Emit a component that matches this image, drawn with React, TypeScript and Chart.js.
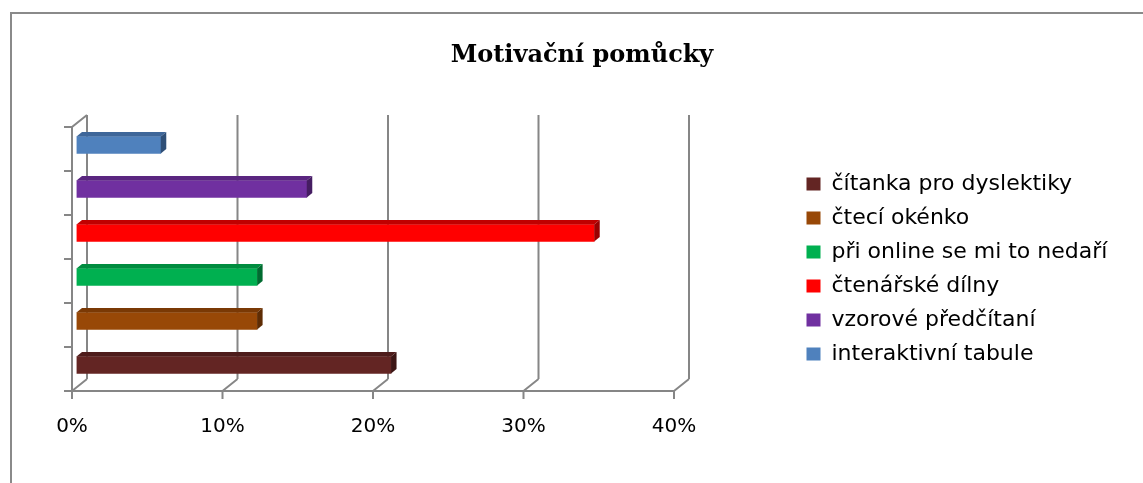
import React, { useEffect, useRef } from 'react';
import { Chart, registerables } from 'chart.js';

Chart.register(...registerables);

// ---- data ----
const categories = [
  'čítanka pro dyslektiky',
  'čtecí okénko',
  'při online se mi to nedaří',
  'čtenářské dílny',
  'vzorové předčítaní',
  'interaktivní tabule',
];
const values = [20.9, 12.0, 12.0, 34.4, 15.3, 5.6];
const xTickLabels = ['0%', '10%', '20%', '30%', '40%'];
const chartTitle = 'Motivační pomůcky';

// ---- styles ----
const frontColors = ['#632523', '#984807', '#00B050', '#FF0000', '#7030A0', '#4F81BD'];
const topColors = ['#4E1C1B', '#7A3905', '#008C3F', '#C00000', '#5A2680', '#3E6699'];
const sideColors = ['#3D1615', '#5E2C04', '#006B30', '#9A0000', '#451D62', '#2F4F77'];

const WALL_DX = 15;
const WALL_DY = -12;
const BAR_DX = 4.5;
const BAR_DY = -4;
const FACE_DX = 5.5;
const FACE_DY = -4.5;
const GRID = '#868686';

const excel3d = {
  id: 'excel3d',
  afterLayout(chart: any) {
    const lg = chart.legend;
    if (lg) {
      lg.left = 794.5;
      lg.right = chart.width;
      lg.top = 161;
      lg.bottom = chart.height;
    }
    const tb = chart.titleBlock;
    if (tb) {
      tb.left = 21;
      tb.right = chart.width;
    }
  },
  beforeDraw(chart: any) {
    const ctx = chart.ctx;
    ctx.save();
    ctx.strokeStyle = '#8a8a8a';
    ctx.lineWidth = 2;
    ctx.strokeRect(11, 13, chart.width + 20, chart.height + 20);
    ctx.restore();
  },
  beforeDatasetsDraw(chart: any) {
    const ctx = chart.ctx;
    const xs = chart.scales.x;
    const ys = chart.scales.y;
    const { top, bottom } = chart.chartArea;
    const x0 = xs.getPixelForValue(xs.min);
    const x1 = xs.getPixelForValue(xs.max);
    ctx.save();
    ctx.strokeStyle = GRID;
    ctx.lineWidth = 2;
    ctx.lineCap = 'butt';
    ctx.beginPath();
    xs.ticks.forEach((t: any) => {
      const x = xs.getPixelForValue(t.value);
      // back wall gridline
      ctx.moveTo(x + WALL_DX, bottom + WALL_DY);
      ctx.lineTo(x + WALL_DX, top + WALL_DY);
      // floor diagonal
      ctx.moveTo(x, bottom);
      ctx.lineTo(x + WALL_DX, bottom + WALL_DY);
      // tick mark
      ctx.moveTo(x, bottom);
      ctx.lineTo(x, bottom + 8);
    });
    // floor front edge
    ctx.moveTo(x0, bottom);
    ctx.lineTo(x1, bottom);
    // left axis
    ctx.moveTo(x0, bottom);
    ctx.lineTo(x0, top);
    ctx.lineTo(x0 + WALL_DX, top + WALL_DY);
    // category boundary ticks
    const n = ys.ticks.length;
    const band = n > 1 ? Math.abs(ys.getPixelForValue(1) - ys.getPixelForValue(0)) : bottom - top;
    for (let i = 0; i < n; i++) {
      const c = ys.getPixelForValue(i);
      [c - band / 2, c + band / 2].forEach((y) => {
        ctx.moveTo(x0 - 8, y);
        ctx.lineTo(x0, y);
      });
    }
    ctx.stroke();
    ctx.restore();

    ctx.save();
    ctx.translate(BAR_DX, BAR_DY);
  },
  afterDatasetsDraw(chart: any) {
    const ctx = chart.ctx;
    ctx.restore();
    const meta = chart.getDatasetMeta(0);
    ctx.save();
    meta.data.forEach((el: any, i: number) => {
      const p = el.getProps(['x', 'y', 'base', 'height'], true);
      const left = Math.min(p.base, p.x) + BAR_DX;
      const right = Math.max(p.base, p.x) + BAR_DX;
      const t = p.y - p.height / 2 + BAR_DY;
      const b = p.y + p.height / 2 + BAR_DY;
      // top face
      ctx.fillStyle = topColors[i];
      ctx.beginPath();
      ctx.moveTo(left, t);
      ctx.lineTo(right, t);
      ctx.lineTo(right + FACE_DX, t + FACE_DY);
      ctx.lineTo(left + FACE_DX, t + FACE_DY);
      ctx.closePath();
      ctx.fill();
      // side face
      ctx.fillStyle = sideColors[i];
      ctx.beginPath();
      ctx.moveTo(right, t);
      ctx.lineTo(right + FACE_DX, t + FACE_DY);
      ctx.lineTo(right + FACE_DX, b + FACE_DY);
      ctx.lineTo(right, b);
      ctx.closePath();
      ctx.fill();
    });
    ctx.restore();
  },
};

export default function App() {
  const canvasRef = useRef<HTMLCanvasElement | null>(null);

  useEffect(() => {
    if (!canvasRef.current) return;
    const chart = new Chart(canvasRef.current, {
      type: 'bar',
      data: {
        labels: categories,
        datasets: [
          {
            data: values,
            backgroundColor: frontColors,
            borderWidth: 0,
            barThickness: 17,
          },
        ],
      },
      options: {
        indexAxis: 'y',
        animation: false,
        responsive: false,
        events: [],
        layout: { padding: { left: 72, right: 469, top: 0, bottom: 32 } },
        scales: {
          x: {
            type: 'linear',
            min: 0,
            max: 40,
            grid: { display: false, drawTicks: false },
            border: { display: false },
            ticks: {
              stepSize: 10,
              padding: 24,
              color: '#000',
              font: { family: 'DejaVu Sans', size: 20 },
              callback: (_v: any, i: number) => xTickLabels[i],
            },
            afterFit: (s: any) => {
              s.height = 60;
            },
          },
          y: {
            type: 'category',
            reverse: true,
            display: false,
          },
        },
        plugins: {
          title: {
            display: true,
            text: chartTitle,
            color: '#000',
            font: { family: 'DejaVu Serif', size: 24, weight: 'bold' },
            padding: { top: 41, bottom: 57.2 },
          },
          legend: {
            display: true,
            position: 'chartArea',
            align: 'start',
            labels: {
              color: '#000',
              font: { family: 'DejaVu Sans', size: 22 },
              boxWidth: 14,
              boxHeight: 13,
              padding: 12,
              generateLabels: () =>
                categories.map((c, i) => ({
                  text: c,
                  fillStyle: frontColors[i],
                  strokeStyle: frontColors[i],
                  lineWidth: 0,
                  hidden: false,
                  index: i,
                  fontColor: '#000',
                })),
            },
          },
          tooltip: { enabled: false },
        },
      },
      plugins: [excel3d],
    } as any);
    return () => chart.destroy();
  }, []);

  return (
    <div style={{ position: 'absolute', left: 0, top: 0, width: 1143, height: 483, background: '#fff' }}>
      <canvas ref={canvasRef} width={1143} height={483} style={{ display: 'block' }} />
    </div>
  );
}
